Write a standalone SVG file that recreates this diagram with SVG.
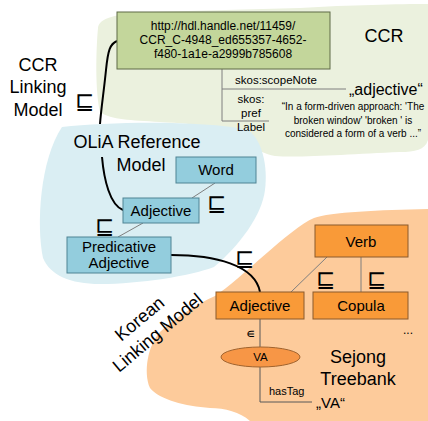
<svg xmlns="http://www.w3.org/2000/svg" width="428" height="421" viewBox="0 0 428 421">
<style>
text{font-family:"Liberation Sans",Arial,sans-serif;fill:#000}
.big{font-size:18px}
.box{font-size:15px;text-anchor:middle}
.blue{fill:#93cddd;stroke:#4f8394;stroke-width:1}
.org{fill:#f99a38;stroke:#8a5a2c;stroke-width:1}
.thin{stroke:#7f7f7f;stroke-width:1;fill:none}
.curve{stroke:#000;stroke-width:2;fill:none}
.sub{font-family:"DejaVu Sans",sans-serif;font-size:23px;text-anchor:middle}
</style>
<rect width="428" height="421" fill="#fff"/>
<g id="blobs">
<path d="M98,28 C99,18 115,14 150,12 L300,8 C350,5 400,4 428,4 L428,140 C425,150 415,152 400,152 C350,154 300,158 275,156 C255,152 245,140 233,133 C220,128 200,124 160,122 C130,120 112,120 100,112 C95,90 96,50 98,28 Z" fill="#ebf1de"/>
<path d="M62,127 C110,122 200,120 248,130 C262,140 268,165 265,190 C262,215 240,245 214,267 C190,276 140,284 100,284 C70,284 50,275 43,258 C36,225 40,160 62,127 Z" fill="#daeef3"/>
<path d="M314,218 C330,212 380,210 428,209 L428,421 L250,421 C240,412 225,408 210,408 C185,406 160,400 150,388 C143,372 148,345 160,332 C175,318 195,305 215,296 C240,280 290,228 314,218 Z" fill="#fdcb9b"/>
</g>
<g id="connectors">
<path class="thin" d="M222,69 V121 M222,89 H346 M222,121 H269"/>
<path class="curve" d="M117,41 C110,44 108,50 106,70 C104,90 101,110 100,124"/>
<path class="curve" d="M102,157 C104,180 110,205 123,210"/>
<path class="curve" d="M171,255 C215,255 255,265 260,292"/>
<path class="thin" d="M215,183 L192,198 M143,223 L118,237 M327,257 L291,292 M361,257 V292"/>
<path d="M260,319 V347 M260,367 V402 H312" stroke="#595959" stroke-width="1" fill="none"/>
</g>
<g id="labels">
<text class="big" text-anchor="middle" x="38" y="71">CCR</text>
<text class="big" text-anchor="middle" x="38" y="93">Linking</text>
<text class="big" text-anchor="middle" x="38" y="116">Model</text>
<text class="big" text-anchor="middle" x="137" y="148">OLiA Reference</text>
<text class="big" text-anchor="middle" x="141" y="171">Model</text>
<text class="big" text-anchor="middle" x="384" y="42">CCR</text>
<text class="big" text-anchor="middle" x="358" y="363">Sejong</text>
<text class="big" text-anchor="middle" x="358" y="385">Treebank</text>
<text class="big" text-anchor="middle" transform="translate(139,318) rotate(-40)" x="0" y="7">Korean</text>
<text class="big" text-anchor="middle" transform="translate(157,332) rotate(-40)" x="0" y="7">Linking Model</text>
<text x="235" y="84" font-size="11.5">skos:scopeNote</text>
<text x="251" y="103" font-size="11.5" text-anchor="middle">skos:</text>
<text x="251" y="117" font-size="11.5" text-anchor="middle">pref</text>
<text x="251" y="131" font-size="11.5" text-anchor="middle">Label</text>
<text x="349" y="95" font-size="16">„adjective“</text>
<text x="353" y="110" font-size="10" text-anchor="middle">“In a form-driven approach: 'The</text>
<text x="353" y="124" font-size="10" text-anchor="middle">broken window' 'broken ' is</text>
<text x="353" y="137" font-size="10" text-anchor="middle">considered a form of a verb ...”</text>
<text x="269" y="395" font-size="11">hasTag</text>
<text x="316" y="408" font-size="15">„VA“</text>
<text x="408" y="334" font-size="12" text-anchor="middle">...</text>
<text class="sub" x="85" y="109">⊑</text>
<text class="sub" x="217" y="211">⊑</text>
<text class="sub" x="105" y="234">⊑</text>
<text class="sub" x="245" y="266">⊑</text>
<text class="sub" x="326" y="287">⊑</text>
<text class="sub" x="377" y="287">⊑</text>
<text x="250" y="338" font-family="DejaVu Sans,sans-serif" font-size="13" text-anchor="middle">∊</text>
</g>
<g id="node-ccr">
<rect x="117" y="12" width="213" height="57" fill="#c3d69b" stroke="#5f6b47" stroke-width="1"/>
<text x="223" y="30" font-size="12" text-anchor="middle">http://hdl.handle.net/11459/</text>
<text x="223" y="44" font-size="12" text-anchor="middle">CCR_C-4948_ed655357-4652-</text>
<text x="223" y="58" font-size="12" text-anchor="middle">f480-1a1e-a2999b785608</text>
</g>
<g id="node-word">
<rect class="blue" x="176" y="157" width="80" height="26"/>
<text class="box" x="216" y="175">Word</text>
</g>
<g id="node-adjective-olia">
<rect class="blue" x="123" y="198" width="76" height="25"/>
<text class="box" x="161" y="216">Adjective</text>
</g>
<g id="node-predicative">
<rect class="blue" x="67" y="237" width="104" height="36"/>
<text class="box" x="119" y="252">Predicative</text>
<text class="box" x="119" y="268">Adjective</text>
</g>
<g id="node-verb">
<rect class="org" x="315" y="225" width="93" height="32"/>
<text class="box" x="361" y="247">Verb</text>
</g>
<g id="node-adjective-sejong">
<rect class="org" x="216" y="292" width="88" height="27"/>
<text class="box" x="260" y="311">Adjective</text>
</g>
<g id="node-copula">
<rect class="org" x="313" y="292" width="95" height="27"/>
<text class="box" x="361" y="311">Copula</text>
</g>
<g id="node-va">
<ellipse cx="260.5" cy="357" rx="39.5" ry="10" fill="#f79646" stroke="#a0632e" stroke-width="1"/>
<text x="260.5" y="361" font-size="11.5" text-anchor="middle">VA</text>
</g>
</svg>
